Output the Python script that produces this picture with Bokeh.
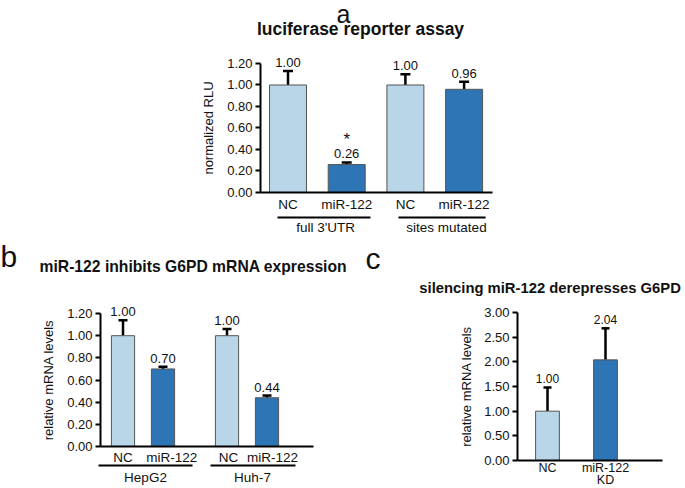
from bokeh.plotting import figure
from bokeh.models import (ColumnDataSource, FixedTicker, PrintfTickFormatter, Whisker,
                          TeeHead, LabelSet, Label, Range1d)
from bokeh.layouts import column, row
from bokeh.core.properties import value
from bokeh.embed import file_html
from bokeh.resources import INLINE

FONT = "Liberation Sans"
LIGHT = "#b9d5e8"
DARK = "#2e75b6"

# ---------------- data ----------------
# panel a
a_pos = [1, 2, 3, 4]
a_labels = ["NC", "miR-122", "NC", "miR-122"]
a_vals = [1.00, 0.26, 1.00, 0.96]
a_err = [0.13, 0.02, 0.10, 0.07]
a_sig = ["", "*", "", ""]
a_groups = ["full 3'UTR", "sites mutated"]
a_group_x = [1.64, 3.70]
a_group_span = [(0.821, 2.405), (2.882, 4.366)]
a_yticks = [0.0, 0.2, 0.4, 0.6, 0.8, 1.0, 1.2]

# panel b
b_pos = [1, 2, 3.6, 4.6]
b_labels = ["NC", "miR-122", "NC", "miR-122"]
b_vals = [1.00, 0.70, 1.00, 0.44]
b_err = [0.14, 0.02, 0.06, 0.02]
b_groups = ["HepG2", "Huh-7"]
b_group_x = [1.5625, 4.2375]
b_group_span = [(0.3875, 2.7375), (3.1875, 5.3125)]
b_yticks = [0.0, 0.2, 0.4, 0.6, 0.8, 1.0, 1.2]

# panel c
c_pos = [1, 2]
c_labels = ["NC", "miR-122\nKD"]
c_vals = [1.00, 2.04]
c_err = [0.48, 0.64]
c_yticks = [0.0, 0.5, 1.0, 1.5, 2.0, 2.5, 3.0]

COLORS = [LIGHT, DARK, LIGHT, DARK]


def make_fig(width, height, xr, yr, yaxis_at, xb, yb, yticks, xticks, xlabels, ylabel,
             tick_fs="13px", cat_fs="13.5px", x_standoff=5, y_label_standoff=8,
             cat_line_height=1.2):
    p = figure(width=width, height=height, x_range=Range1d(*xr), y_range=Range1d(*yr),
               output_backend="svg", toolbar_location=None,
               min_border_left=0, min_border_right=0,
               min_border_top=0, min_border_bottom=0)
    p.xgrid.visible = False
    p.ygrid.visible = False
    p.outline_line_color = None
    p.background_fill_color = "white"
    p.border_fill_color = "white"
    # y axis
    yax = p.yaxis[0]
    yax.fixed_location = yaxis_at
    yax.ticker = FixedTicker(ticks=yticks)
    yax.formatter = PrintfTickFormatter(format="%.2f")
    yax.bounds = yb
    yax.axis_line_width = 2
    yax.axis_line_color = "black"
    yax.major_tick_line_width = 2
    yax.major_tick_out = 5
    yax.major_tick_in = 0
    yax.minor_tick_line_color = None
    yax.major_label_text_font = FONT
    yax.major_label_text_font_size = tick_fs
    yax.major_label_text_color = "#111111"
    yax.major_label_standoff = 3
    yax.axis_label = ylabel
    yax.axis_label_text_font = FONT
    yax.axis_label_text_font_style = "normal"
    yax.axis_label_text_font_size = "13px"
    yax.axis_label_text_color = "#111111"
    yax.axis_label_standoff = y_label_standoff
    # x axis
    xax = p.xaxis[0]
    xax.fixed_location = 0
    xax.ticker = FixedTicker(ticks=xticks)
    xax.major_label_overrides = {t: l for t, l in zip(xticks, xlabels)}
    xax.bounds = xb
    xax.axis_line_width = 2
    xax.axis_line_color = "black"
    xax.major_tick_line_color = None
    xax.major_tick_out = 0
    xax.major_tick_in = 0
    xax.minor_tick_line_color = None
    xax.major_label_text_font = FONT
    xax.major_label_text_font_size = cat_fs
    xax.major_label_text_color = "#111111"
    xax.major_label_text_line_height = cat_line_height
    xax.major_label_standoff = x_standoff
    return p


def add_bars(p, pos, vals, errs, width, head, label_fs="13px", sig=None):
    tops = [v + e for v, e in zip(vals, errs)]
    src = ColumnDataSource(dict(x=pos, val=vals, top=tops,
                                txt=["%.2f" % v for v in vals],
                                color=COLORS[:len(pos)],
                                sig=sig if sig else [""] * len(pos)))
    p.vbar(x="x", top="val", bottom=0, width=width, source=src, fill_color="color",
           line_color="#555555", line_width=1)
    p.add_layout(Whisker(base="x", upper="top", lower="val", source=src,
                         line_width=2.5, line_color="black",
                         upper_head=TeeHead(size=head, line_width=2.5, line_color="black"),
                         lower_head=None))
    p.add_layout(LabelSet(x="x", y="top", text="txt", source=src, y_offset=4,
                          text_align="center", text_baseline="bottom",
                          text_font=value(FONT), text_font_size=label_fs,
                          text_color="#111111"))
    if sig:
        p.add_layout(LabelSet(x="x", y="top", text="sig", source=src, y_offset=17,
                              text_align="center", text_baseline="alphabetic",
                              text_font=value(FONT), text_font_size="17px",
                              text_color="#111111"))


def add_text(p, x, y, text, fs, bold=False, align="left"):
    p.add_layout(Label(x=x, y=y, text=text, text_font=FONT, text_font_size="%spx" % fs,
                       text_font_style="bold" if bold else "normal",
                       text_align=align, text_baseline="alphabetic", text_color="#111111",
                       y_offset=round(0.45 * fs - 1.5)))


def add_groups(p, names, xs, spans, line_y, text_y):
    for name, x, (x0, x1) in zip(names, xs, spans):
        p.segment(x0=x0, y0=line_y, x1=x1, y1=line_y, line_width=2, line_color="black")
        add_text(p, x, text_y, name, 13.5, align="center")


# ---------------- panel a ----------------
pa = make_fig(684, 238, (-3.8978, 7.7547), (-0.4279, 1.7860), 0.5315,
              (0.5315, 4.484), (0, 1.2), a_yticks, a_pos, a_labels, "normalized RLU")
add_bars(pa, a_pos, a_vals, a_err, 0.63, 10, sig=a_sig)
add_groups(pa, a_groups, a_group_x, a_group_span, -0.2326, -0.372)
add_text(pa, 2.235, 1.4605, "luciferase reporter assay", 17.5, bold=True, align="center")
add_text(pa, 1.9455, 1.5628, "a", 25, align="center")

# ---------------- panel b ----------------
b_tick_nudge = [0.0, 0.22, 0.04, 0.14]
b_ticks = [round(x + d, 2) for x, d in zip(b_pos, b_tick_nudge)]
pb = make_fig(360, 250, (-2.0625, 6.9375), (-0.3791, 1.8773), 0.4375,
              (0.4375, 5.7625), (0, 1.2), b_yticks, b_ticks, b_labels, "relative mRNA levels",
              x_standoff=4)
add_bars(pb, b_pos, b_vals, b_err, 0.58, 9)
add_groups(pb, b_groups, b_group_x, b_group_span, -0.1715, -0.325)
add_text(pb, -1.0875, 1.5704, "miR-122 inhibits G6PD mRNA expression", 15.7, bold=True)
add_text(pb, -2.0625, 1.6065, "b", 30)

# ---------------- panel c ----------------
pc = make_fig(324, 250, (-2.2241, 3.3621), (-0.5676, 4.5003), 0.4828,
              (0.4828, 2.983), (0, 3.0), c_yticks, c_pos, c_labels, "relative mRNA levels",
              cat_fs="12.5px", x_standoff=0, y_label_standoff=7, cat_line_height=0.9)
add_bars(pc, c_pos, c_vals, c_err, 0.41, 8, label_fs="12px")
add_text(pc, -1.21, 3.4056, "silencing miR-122 derepresses G6PD", 14.8, bold=True)
add_text(pc, -2.138, 3.8516, "c", 30)

layout = column(pa, row(pb, pc))

with open("out.html", "w") as f:
    f.write(file_html(layout, INLINE))
